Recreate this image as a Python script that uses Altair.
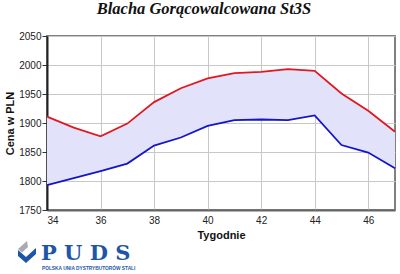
import altair as alt
import pandas as pd

weeks = [34, 35, 36, 37, 38, 39, 40, 41, 42, 43, 44, 45, 46, 47]
max_price = [1911, 1892, 1877, 1899, 1936, 1960, 1977, 1986, 1988, 1993, 1990, 1951, 1921, 1885]
min_price = [1793, 1805, 1817, 1830, 1861, 1875, 1895, 1905, 1906, 1905, 1913, 1862, 1849, 1822]
x_ticks = [34, 36, 38, 40, 42, 44, 46]
y_ticks = [1750, 1800, 1850, 1900, 1950, 2000, 2050]

title_text = "Blacha Gorącowalcowana St3S"
x_title = "Tygodnie"
y_title = "Cena w PLN"
logo_text = "P U D S"
logo_sub = "POLSKA UNIA DYSTRYBUTORÓW STALI"

df = pd.DataFrame({"week": weeks, "max": max_price, "min": min_price})

W, H = 348, 174

x_scale = alt.Scale(domain=[34, 47], nice=False, zero=False)
x_axis = alt.Axis(
    values=x_ticks, title=x_title, tickSize=0, labelPadding=5,
    labelFontSize=10, labelFont="Liberation Sans", labelColor="#222",
    labelOverlap=False, format="d", tickCount=7,
    titleFont="Liberation Sans", titleFontSize=11, titleFontWeight="bold",
    titleColor="#111", titleY=28, titleBaseline="alphabetic",
    domainColor="#666", domainWidth=2,
    gridColor="#c8c8c8", gridWidth=1,
)
y_scale = alt.Scale(domain=[1750, 2050], nice=False, zero=False)
y_axis = alt.Axis(
    values=y_ticks, title=y_title, tickSize=5, tickColor="#333", tickWidth=1,
    labelPadding=1, labelFontSize=10, labelFont="Liberation Sans", labelColor="#222",
    labelOverlap=False, format="d", labelBound=False, labelFlush=False, tickCount=7,
    titleFont="Liberation Sans", titleFontSize=11, titleFontWeight="bold",
    titleColor="#111", titleX=-37, titleY=H / 2, titleAngle=-90,
    titleAlign="center", titleBaseline="middle",
    domainColor="#222", domainWidth=2,
    gridColor="#c8c8c8", gridWidth=1,
)

base = alt.Chart(df)

area = base.mark_area(color="#e2e2fa", opacity=1).encode(
    x=alt.X("week:Q", scale=x_scale, axis=x_axis),
    y=alt.Y("max:Q", scale=y_scale, axis=y_axis),
    y2="min:Q",
)
red = base.mark_line(color="#e01820", strokeWidth=1.8).encode(
    x=alt.X("week:Q", scale=x_scale, axis=x_axis),
    y=alt.Y("max:Q", scale=y_scale, axis=y_axis),
)
blue = base.mark_line(color="#1414cc", strokeWidth=1.8).encode(
    x=alt.X("week:Q", scale=x_scale, axis=x_axis),
    y=alt.Y("min:Q", scale=y_scale, axis=y_axis),
)

one = alt.Data(values=[{"a": 1}])

title = alt.Chart(one).mark_text(
    text=title_text, font="Liberation Serif", fontSize=16.5, fontWeight="bold",
    fontStyle="italic", align="center", baseline="alphabetic", color="#111",
).encode(x=alt.value(157), y=alt.value(-22))

logo = alt.Chart(one).mark_text(
    text=logo_text, font="DejaVu Serif", fontSize=21, fontWeight="bold",
    align="left", baseline="alphabetic", color="#1d56a5",
).encode(x=alt.value(-6), y=alt.value(224))

sub = alt.Chart(one).mark_text(
    text=logo_sub, font="Liberation Sans", fontSize=4.8, fontWeight="bold",
    align="left", baseline="alphabetic", color="#1d56a5",
).encode(x=alt.value(-5), y=alt.value(234))

chev_blue = alt.Chart(one).mark_point(
    shape="M -0.9 -0.5 L -0.1 0.2 L 0.9 -0.7 L 0.9 -0.1 L -0.1 0.8 L -0.9 0.1 Z",
    filled=True, color="#1d56a5", size=400, opacity=1,
).encode(x=alt.value(-20), y=alt.value(219))

chev_gray = alt.Chart(one).mark_point(
    shape="M -0.9 -0.6 L 0.0 -1.4 L 0.1 -0.8 L -0.5 -0.25 Z",
    filled=True, color="#a8aab4", size=400, opacity=1,
).encode(x=alt.value(-20), y=alt.value(219))

chart = alt.layer(area, red, blue, title, logo, sub, chev_gray, chev_blue).properties(
    width=W, height=H,
    autosize=alt.AutoSizeParams(type="none"),
    padding={"left": 47, "top": 36, "right": 5, "bottom": 64},
    background="white",
).configure_view(stroke="#808080", strokeWidth=2)

chart.save("out.html", embed_options={"renderer": "svg", "actions": False})
